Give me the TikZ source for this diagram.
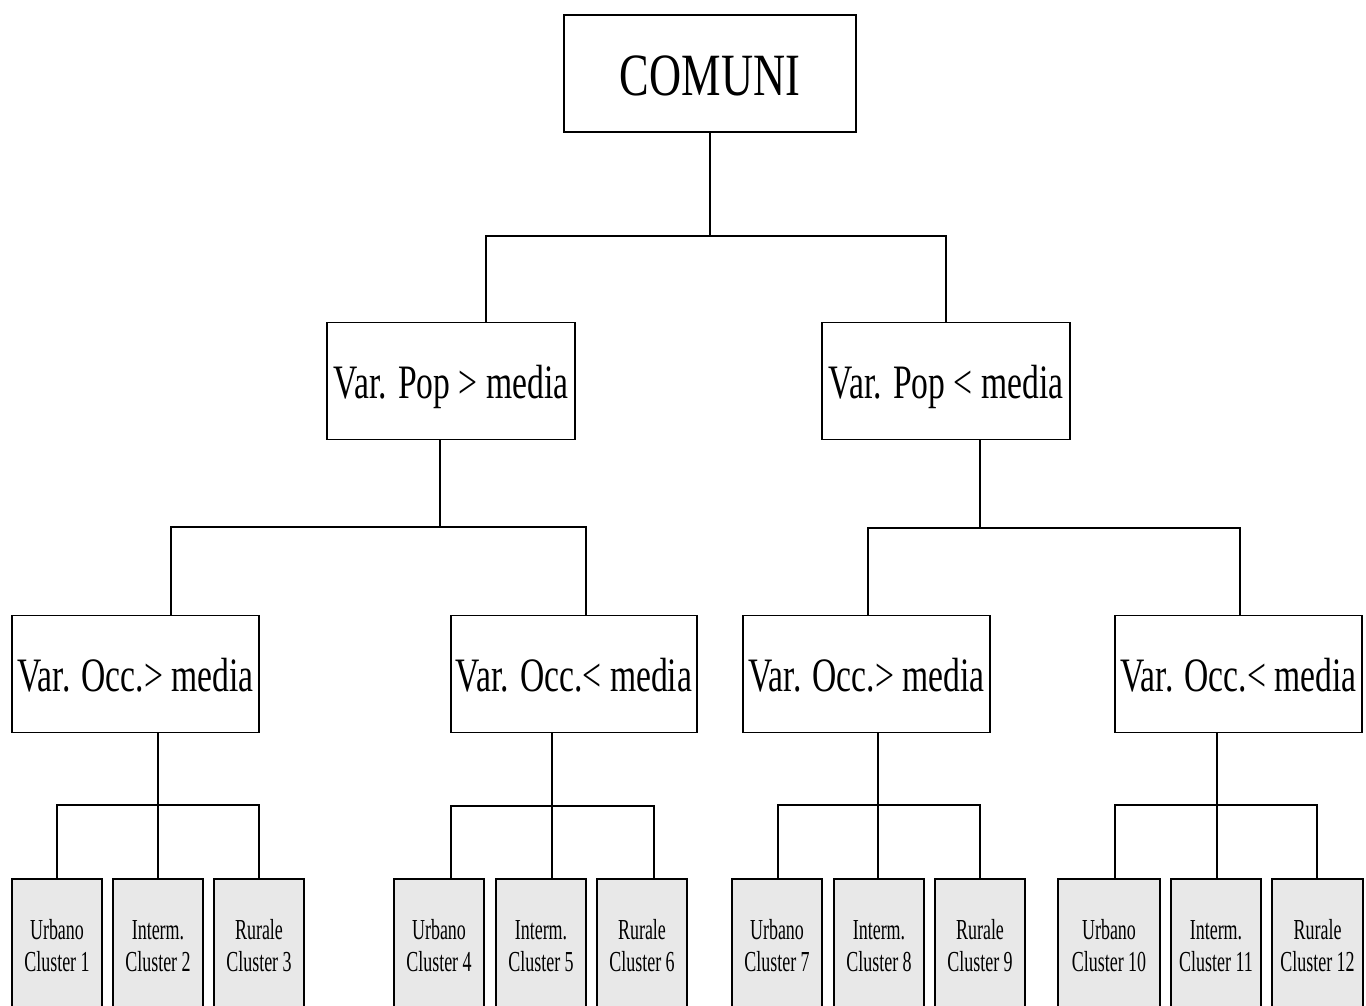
\documentclass[tikz,border=0pt]{standalone}
\usepackage{fontspec}
\newfontfamily\fTop[FakeStretch=0.74]{Liberation Serif}
\newfontfamily\fMid[FakeStretch=0.70]{Liberation Serif}
\newfontfamily\fLeaf[FakeStretch=0.62]{Liberation Serif}
\definecolor{leafgray}{HTML}{E8E8E8}
\newcommand\leaftext[2]{\parbox[t]{84pt}{\centering #1\\#2}}
\begin{document}
\begin{tikzpicture}[x=1pt,y=-1pt,
  box/.style={draw=black, line width=1.8pt, inner sep=0pt, fill=white},
  topbox/.style={box, font=\fTop\fontsize{60}{60}\selectfont, text height=43pt, text depth=0pt, minimum width=292pt, minimum height=117pt},
  midbox/.style={box, font=\fMid\fontsize{48}{48}\selectfont, text height=34pt, text depth=0pt, minimum height=117pt},
  leafbox/.style={box, fill=leafgray, font=\fLeaf\fontsize{29}{32}\selectfont, text height=0pt, text depth=22pt, minimum width=90pt, minimum height=142pt},
  wire/.style={line width=1.4pt}]
\useasboundingbox (0,0) rectangle (1366,1005);
\clip (0,0) rectangle (1366,1005);
\fill[white] (0,0) rectangle (1366,1005);

% top
\node[topbox] (top) at (710,73.5) {COMUNI};
% level 1
\node[midbox, minimum width=248pt] (pgt) at (451,381) {Var. Pop > media};
\node[midbox, minimum width=248pt] (plt) at (946,381) {Var. Pop < media};
% level 2
\node[midbox, minimum width=247pt] (o1) at (135.5,674) {Var. Occ.> media};
\node[midbox, minimum width=246pt] (o2) at (574,674) {Var. Occ.< media};
\node[midbox, minimum width=247pt] (o3) at (866.5,674) {Var. Occ.> media};
\node[midbox, minimum width=247pt] (o4) at (1238.5,674) {Var. Occ.< media};
% leaves
\node[leafbox] (c1) at (57,950) {\leaftext{Urbano}{Cluster 1}};
\node[leafbox] (c2) at (158,950) {\leaftext{Interm.}{Cluster 2}};
\node[leafbox] (c3) at (259,950) {\leaftext{Rurale}{Cluster 3}};
\node[leafbox] (c4) at (439,950) {\leaftext{Urbano}{Cluster 4}};
\node[leafbox] (c5) at (541,950) {\leaftext{Interm.}{Cluster 5}};
\node[leafbox] (c6) at (642,950) {\leaftext{Rurale}{Cluster 6}};
\node[leafbox] (c7) at (777,950) {\leaftext{Urbano}{Cluster 7}};
\node[leafbox] (c8) at (879,950) {\leaftext{Interm.}{Cluster 8}};
\node[leafbox] (c9) at (980,950) {\leaftext{Rurale}{Cluster 9}};
\node[leafbox, minimum width=102pt] (c10) at (1109,950) {\leaftext{Urbano}{Cluster 10}};
\node[leafbox] (c11) at (1216,950) {\leaftext{Interm.}{Cluster 11}};
\node[leafbox, minimum width=91pt] (c12) at (1317.5,950) {\leaftext{Rurale}{Cluster 12}};

% bus coordinates
\coordinate (b0) at (710,236);
\coordinate (b0l) at (486,236);
\coordinate (b0r) at (946,236);
\coordinate (s1) at (440,0);
\coordinate (b1) at (440,527);
\coordinate (b1l) at (171,527);
\coordinate (b1r) at (586,527);
\coordinate (s2) at (980,0);
\coordinate (b2) at (980,528);
\coordinate (b2l) at (868,528);
\coordinate (b2r) at (1240,528);
\coordinate (s3) at (158,0);
\coordinate (b3) at (158,805);
\coordinate (b3l) at (57,805);
\coordinate (b3r) at (259,805);
\coordinate (s4) at (552,0);
\coordinate (b4) at (552,806);
\coordinate (b4l) at (451,806);
\coordinate (b4r) at (654,806);
\coordinate (s5) at (878,0);
\coordinate (b5) at (878,805);
\coordinate (b5l) at (778,805);
\coordinate (b5r) at (980,805);
\coordinate (s6) at (1217,0);
\coordinate (b6) at (1217,805);
\coordinate (b6l) at (1115,805);
\coordinate (b6r) at (1317,805);

\begin{scope}[wire]
% level 0 -> 1
\draw (top.south) -- (b0);
\draw (b0l |- pgt.north) |- (b0r) -- (b0r |- plt.north);
% level 1 -> 2
\draw (s1 |- pgt.south) -- (b1);
\draw (b1l |- o1.north) |- (b1r) -- (b1r |- o2.north);
\draw (s2 |- plt.south) -- (b2);
\draw (b2l |- o3.north) |- (b2r) -- (b2r |- o4.north);
% level 2 -> leaves
\draw (s3 |- o1.south) -- (b3 |- c2.north);
\draw (b3l |- c1.north) |- (b3r) -- (b3r |- c3.north);
\draw (s4 |- o2.south) -- (b4 |- c5.north);
\draw (b4l |- c4.north) |- (b4r) -- (b4r |- c6.north);
\draw (s5 |- o3.south) -- (b5 |- c8.north);
\draw (b5l |- c7.north) |- (b5r) -- (b5r |- c9.north);
\draw (s6 |- o4.south) -- (b6 |- c11.north);
\draw (b6l |- c10.north) |- (b6r) -- (b6r |- c12.north);
\end{scope}
\end{tikzpicture}
\end{document}
